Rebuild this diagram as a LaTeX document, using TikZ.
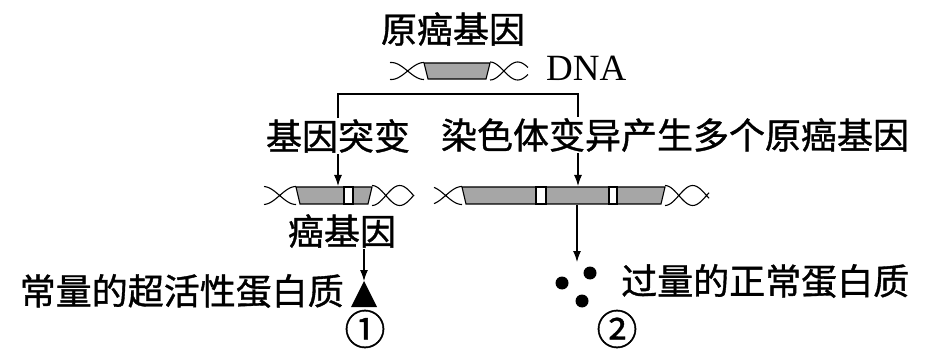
\documentclass[tikz,border=0pt]{standalone}
\usepackage{fontspec}
\setmainfont{Liberation Serif}
\newfontfamily\cjk[FakeBold=1]{Noto Sans CJK SC}
\usetikzlibrary{arrows.meta}

\begin{document}
\begin{tikzpicture}
[x=1pt,y=-1pt]
\tikzset{
	txt/.style = {inner sep = 1pt, font = \cjk\fontsize{36}{40}\selectfont},
	num/.style = {inner sep = 0pt, font = \cjk\fontsize{41}{44}\selectfont},
	line/.style = {line width = 1.2pt},
	arr/.style = {line width = 1.1pt, -{Latex[length=11pt,width=8pt]}},
	strand/.style = {line width = 1.1pt},
	seg/.style = {line width = 1.1pt, fill = black!35},
	band/.style = {line width = 1.1pt, fill = white}
}
\useasboundingbox (0,0) rectangle (937,358);

% labels
\node(proto) [txt] at (453,29) {原癌基因};
\node(dna) [inner sep = 1pt, font = \fontsize{37}{40}\selectfont, anchor = west] at (545,68) {DNA};
\node(mut) [txt] at (338,136) {基因突变};
\node(mult) [txt] at (675,135) {染色体变异产生多个原癌基因};
\node(cancer) [txt] at (342,231) {癌基因};
\node(over) [txt, anchor = east] at (345,291) {常量的超活性蛋白质};
\node(norm) [txt, anchor = west] at (620,281) {过量的正常蛋白质};
\node(n1) [num] at (365,329) {①};
\node(n2) [num] at (617,329) {②};

% DNA with the proto-oncogene
\draw[seg] (424,63) -- (490,63) -- (486,79) -- (428,79) -- cycle;
\draw[strand] plot[domain=0:34, samples=30] ({424-\x}, {71-8.5*cos(5.5*\x)})
	plot[domain=0:34, samples=30] ({424-\x}, {71+8.5*cos(5.5*\x)});
\draw[strand] plot[domain=0:38, samples=30] ({490+\x}, {71-9*cos(6.5*\x)})
	plot[domain=0:38, samples=30] ({490+\x}, {71+9*cos(6.5*\x)});

% point mutation
\draw[seg] (296,187) -- (372,187) -- (368,204) -- (300,204) -- cycle;
\draw[band] (344,187) rectangle (353,204);
\draw[strand] plot[domain=0:32, samples=30] ({296-\x}, {195.5-9*cos(5.5*\x)})
	plot[domain=0:32, samples=30] ({296-\x}, {195.5+9*cos(5.5*\x)});
\draw[strand] plot[domain=0:42, samples=30] ({372+\x}, {195.5-10*cos(6.5*\x)})
	plot[domain=0:42, samples=30] ({372+\x}, {195.5+10*cos(6.5*\x)});

% several copies
\draw[seg] (462,187) -- (665,187) -- (661,204) -- (466,204) -- cycle;
\draw[band] (536,187) rectangle (546,204);
\draw[band] (609,187) rectangle (617,204);
\draw[strand] plot[domain=0:28, samples=30] ({462-\x}, {195.5-9*cos(5.5*\x)})
	plot[domain=0:28, samples=30] ({462-\x}, {195.5+9*cos(5.5*\x)});
\draw[strand] plot[domain=0:44, samples=30] ({665+\x}, {195.5-10*cos(6.5*\x)})
	plot[domain=0:44, samples=30] ({665+\x}, {195.5+10*cos(6.5*\x)});

\coordinate (c1) at (338,186);
\coordinate (c2) at (578,186);
\coordinate (c2b) at (577,205);
\coordinate (tri) at (364,281);
\coordinate (dots) at (577,262);

% products
\fill (tri) -- (377,307) -- (351,307) -- cycle;
\fill (562,283) circle (6.5) (590,273) circle (6.5) (582,301) circle (6.5);

\draw[line] (mut.north) -- ++(0,-24) -| (mult.north -| c2);
\draw[arr] (mut.south -| c1) -- (c1);
\draw[arr] (mult.south -| c2) -- (c2);
\draw[arr] (cancer.south -| tri) -- (tri);
\draw[arr] (c2b) -- (dots);

\end{tikzpicture}
\end{document}
